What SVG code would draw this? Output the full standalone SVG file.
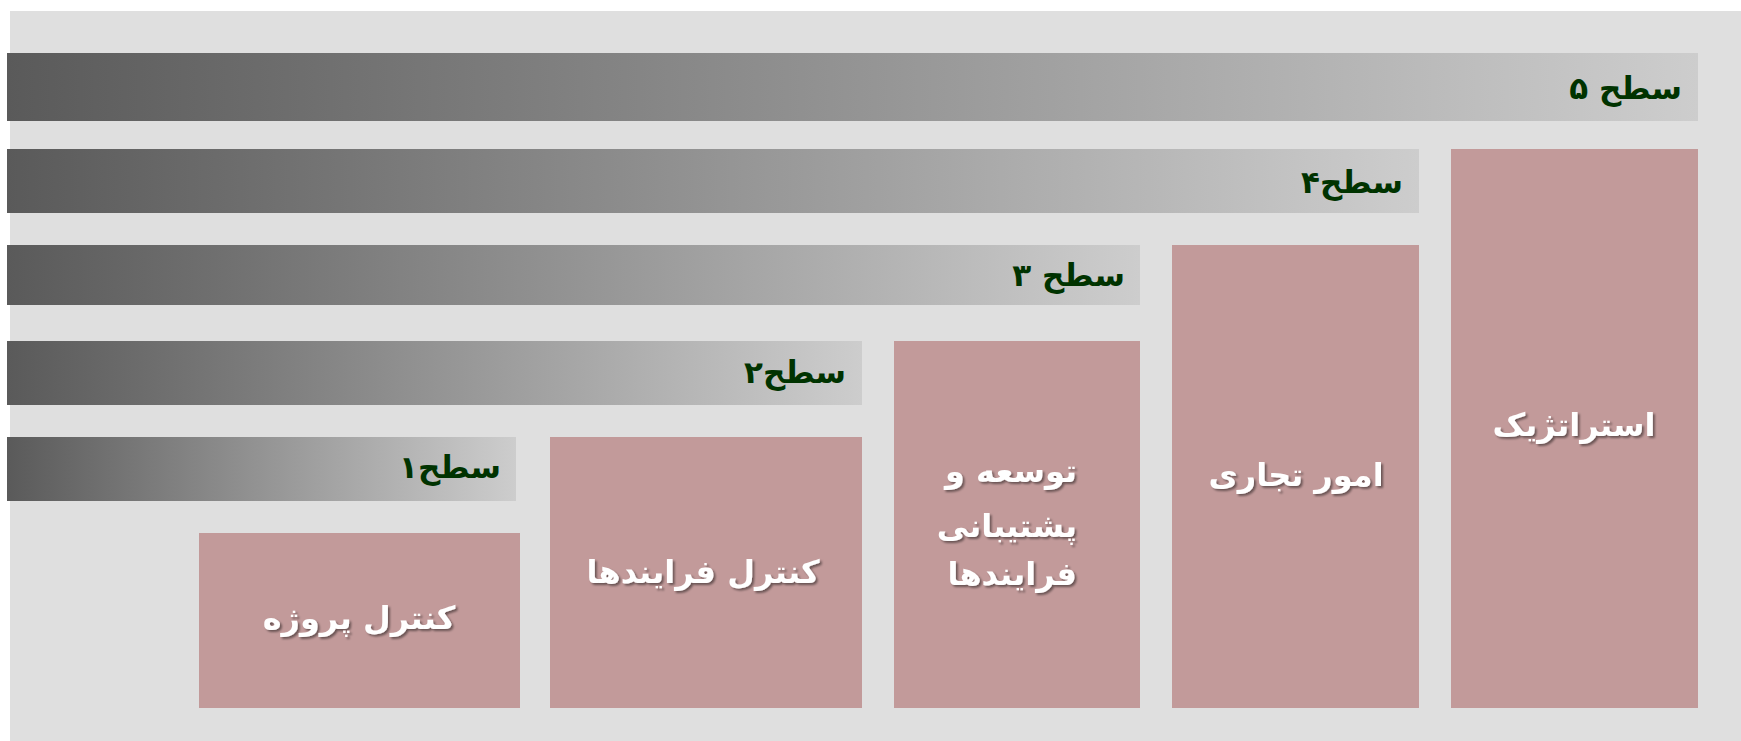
<svg xmlns="http://www.w3.org/2000/svg" width="1741" height="741" viewBox="0 0 1741 741">
<defs>
<linearGradient id="g" x1="0" y1="0" x2="1" y2="0">
<stop offset="0" stop-color="#5a5a5a"/>
<stop offset="1" stop-color="#cdcdcd"/>
</linearGradient>
<filter id="sh" x="-10%" y="-20%" width="130%" height="150%">
<feDropShadow dx="2" dy="2" stdDeviation="1" flood-color="#000" flood-opacity="0.45"/>
</filter>
</defs>
<style>
.bar{fill:url(#g)}
.box{fill:#c29a9a}
.lvl{font-family:"DejaVu Sans",sans-serif;font-weight:bold;font-size:31px;fill:#003300;text-anchor:end}
.lbl{font-family:"DejaVu Sans",sans-serif;font-weight:bold;font-size:32px;fill:#ffffff;text-anchor:middle;filter:url(#sh)}
.lbr{font-family:"DejaVu Sans",sans-serif;font-weight:bold;font-size:32px;fill:#ffffff;text-anchor:end;filter:url(#sh)}
</style>
<rect x="0" y="0" width="1741" height="741" fill="#ffffff"/>
<rect x="10" y="11" width="1731" height="730" fill="#dfdfdf"/>
<g id="level5"><rect class="bar" x="7" y="53" width="1691" height="68"/><text class="lvl" x="1682" y="99">سطح ۵</text></g>
<g id="level4"><rect class="bar" x="7" y="149" width="1412" height="64"/><text class="lvl" x="1403" y="193">سطح۴</text></g>
<g id="level3"><rect class="bar" x="7" y="245" width="1133" height="60"/><text class="lvl" x="1125" y="286">سطح ۳</text></g>
<g id="level2"><rect class="bar" x="7" y="341" width="855" height="64"/><text class="lvl" x="846" y="383">سطح۲</text></g>
<g id="level1"><rect class="bar" x="7" y="437" width="509" height="64"/><text class="lvl" x="501" y="478">سطح۱</text></g>
<g id="strategic"><rect class="box" x="1451" y="149" width="247" height="559"/><text class="lbl" x="1574" y="436">استراتژیک</text></g>
<g id="business"><rect class="box" x="1172" y="245" width="247" height="463"/><text class="lbl" x="1296" y="486">امور تجاری</text></g>
<g id="development"><rect class="box" x="894" y="341" width="246" height="367"/><text class="lbr" x="1077" y="482">توسعه و</text><text class="lbr" x="1077" y="537">پشتیبانی</text><text class="lbr" x="1077" y="585">فرایندها</text></g>
<g id="process"><rect class="box" x="550" y="437" width="312" height="271"/><text class="lbl" x="703" y="583">کنترل فرایندها</text></g>
<g id="project"><rect class="box" x="199" y="533" width="321" height="175"/><text class="lbl" x="359" y="629">کنترل پروژه</text></g>
<g id="connectors"></g>
</svg>
